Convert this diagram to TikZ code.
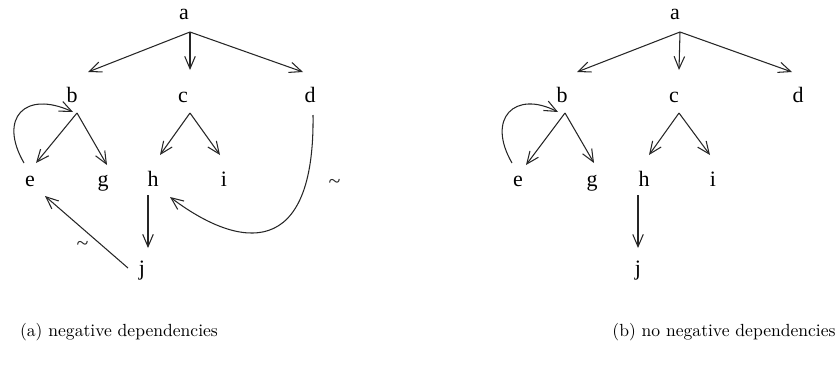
\documentclass[tikz,border=0pt]{standalone}
\usepackage{fontspec}
\newfontfamily\timesfont{Liberation Serif}
\usetikzlibrary{arrows.meta,positioning,calc}

\begin{document}
\begin{tikzpicture}[
    x=0.2mm, y=-0.2mm,
    lbl/.style={font={\timesfont\fontsize{12.5}{13}\selectfont}, inner sep=0pt,
                text height=1.4ex, text depth=0.3ex},
    arr/.style={-{Straight Barb[length=7pt,width=6pt]}, line width=0.6pt, black!85},
    capnode/.style={font=\normalsize, inner sep=0pt},
]
\useasboundingbox (0,0) rectangle (838,364);

% (a) with negative dependencies
\node[lbl] (a) at (184, 15) {a};
\node[lbl] (b) at (72, 98) {b};
\node[lbl] (c) at (183, 98) {c};
\node[lbl] (d) at (310, 98) {d};
\node[lbl] (e) at (30, 182) {e};
\node[lbl] (g) at (103, 182) {g};
\node[lbl] (h) at (153, 182) {h};
\node[lbl] (i) at (224, 182) {i};
\node[lbl] (j) at (142, 271) {j};

\draw[arr] ($(a)+(6,17)$) -- ($(b)+(16,-26)$);
\draw[arr] ($(a)+(6,17)$) -- ($(c)+(7,-28)$);
\draw[arr] ($(a)+(6,17)$) -- ($(d)+(-7,-26)$);
\draw[arr] ($(b)+(5,15)$) -- ($(e)+(6,-19)$);
\draw[arr] ($(b)+(5,15)$) -- ($(g)+(4,-17)$);
\draw[arr] ($(e)+(-6,-19)$) .. controls ($(e)+(-32,-64)$) and ($(b)+(-47,-8)$) .. ($(b)+(1,14)$);
\draw[arr] ($(c)+(7,15)$) -- ($(h)+(7,-27)$);
\draw[arr] ($(c)+(7,15)$) -- ($(i)+(-4,-27)$);
\draw[arr] ($(h)+(-5,13)$) -- ($(j)+(6,-23)$);
\draw[arr] ($(j)+(-14,-3)$) -- node[lbl, midway, below left=1.5mm and -0.5mm] {\textasciitilde} ($(e)+(15,14)$);
\draw[arr] ($(d)+(3,17)$) .. controls ($(d)+(5,162)$) and ($(h)+(87,68)$) .. node[lbl, pos=0.2, right=4.5mm] {\textasciitilde} ($(h)+(17,15)$);

% (b) without negative dependencies
\node[lbl] (a2) at (675, 15) {a};
\node[lbl] (b2) at (562, 98) {b};
\node[lbl] (c2) at (674, 98) {c};
\node[lbl] (d2) at (798, 98) {d};
\node[lbl] (e2) at (518, 182) {e};
\node[lbl] (g2) at (592, 182) {g};
\node[lbl] (h2) at (644, 182) {h};
\node[lbl] (i2) at (713, 182) {i};
\node[lbl] (j2) at (638, 271) {j};

\draw[arr] ($(a2)+(5,17)$) -- ($(b2)+(15,-26)$);
\draw[arr] ($(a2)+(5,17)$) -- ($(c2)+(5,-28)$);
\draw[arr] ($(a2)+(5,17)$) -- ($(d2)+(-6,-26)$);
\draw[arr] ($(b2)+(3,15)$) -- ($(e2)+(8,-17)$);
\draw[arr] ($(b2)+(3,15)$) -- ($(g2)+(2,-19)$);
\draw[arr] ($(e2)+(-6,-19)$) .. controls ($(e2)+(-32,-64)$) and ($(b2)+(-47,-8)$) .. ($(b2)+(-4,14)$);
\draw[arr] ($(c2)+(5,15)$) -- ($(h2)+(5,-27)$);
\draw[arr] ($(c2)+(5,15)$) -- ($(i2)+(-3,-27)$);
\draw[arr] ($(h2)+(-6,13)$) -- ($(j2)+(0,-23)$);

% Captions
\node[capnode] (capa) at (119, 332) {(a) negative dependencies};
\node[capnode] (capb) at (724, 332) {(b) no negative dependencies};
\end{tikzpicture}
\end{document}
